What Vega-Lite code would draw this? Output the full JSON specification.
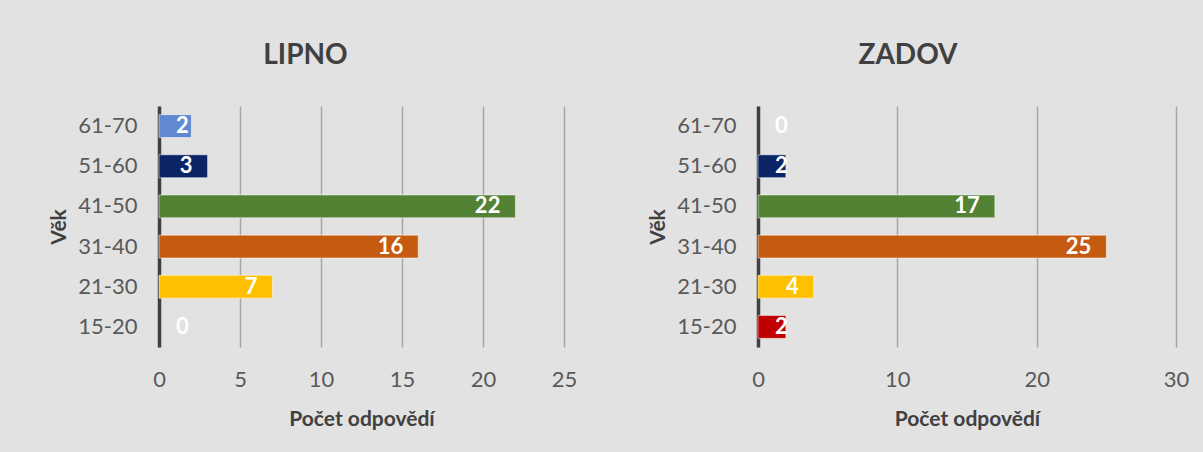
{
  "$schema": "https://vega.github.io/schema/vega-lite/v6.json",
  "background": "#e2e2e2",
  "padding": {"left": 48, "top": 42, "right": 15, "bottom": 23},
  "spacing": 70,
  "datasets": {
    "lipno": [
      {"vek": "15-20", "pocet": 0},
      {"vek": "21-30", "pocet": 7},
      {"vek": "31-40", "pocet": 16},
      {"vek": "41-50", "pocet": 22},
      {"vek": "51-60", "pocet": 3},
      {"vek": "61-70", "pocet": 2}
    ],
    "zadov": [
      {"vek": "15-20", "pocet": 2},
      {"vek": "21-30", "pocet": 4},
      {"vek": "31-40", "pocet": 25},
      {"vek": "41-50", "pocet": 17},
      {"vek": "51-60", "pocet": 2},
      {"vek": "61-70", "pocet": 0}
    ]
  },
  "config": {
    "font": "Lato",
    "view": {"stroke": null},
    "title": {"fontSize": 28, "fontWeight": "bold", "color": "#404040", "offset": 36, "anchor": "middle"},
    "axisY": {"labelFontSize": 22, "labelColor": "#595959", "labelPadding": 22, "ticks": false, "domain": true, "domainColor": "#404040", "domainWidth": 3.5, "titleFontSize": 21, "titleFontWeight": "bold", "titleColor": "#404040", "titlePadding": 8, "grid": false},
    "axisX": {"labelFontSize": 22, "labelColor": "#595959", "labelPadding": 22, "labelFlush": false, "ticks": false, "domain": false, "grid": true, "gridColor": "#a6a6a6", "gridWidth": 1.5, "titleFontSize": 21, "titleFontWeight": "bold", "titleColor": "#404040", "titlePadding": 18}
  },
  "hconcat": [
    {
      "title": {"text": "LIPNO", "dx": -56},
      "width": 405,
      "height": 241,
      "data": {"name": "lipno"},
      "encoding": {
        "y": {"field": "vek", "type": "nominal", "sort": ["61-70", "51-60", "41-50", "31-40", "21-30", "15-20"], "title": "Věk", "scale": {"paddingInner": 0.43, "paddingOuter": 0.215}}
      },
      "layer": [
        {
          "transform": [{"filter": "datum.pocet > 0"}],
          "mark": {"type": "bar", "stroke": "#ffffff", "strokeOpacity": 0.5, "strokeWidth": 1},
          "encoding": {
            "x": {"field": "pocet", "type": "quantitative", "scale": {"domain": [0, 25], "nice": false}, "axis": {"values": [0, 5, 10, 15, 20, 25], "title": "Počet odpovědí"}},
            "color": {"field": "vek", "type": "nominal", "scale": {"domain": ["15-20", "21-30", "31-40", "41-50", "51-60", "61-70"], "range": ["#C00000", "#FFC000", "#C55A11", "#548235", "#0A2466", "#6189D2"]}, "legend": null}
          }
        },
        {
          "transform": [{"filter": "datum.pocet > 2"}],
          "mark": {"type": "text", "align": "right", "dx": -15, "color": "#ffffff", "fontWeight": "bold", "fontSize": 22},
          "encoding": {"x": {"field": "pocet", "type": "quantitative"}, "text": {"field": "pocet", "type": "quantitative"}}
        },
        {
          "transform": [{"filter": "datum.pocet <= 2"}],
          "mark": {"type": "text", "align": "left", "dx": 17, "color": "#ffffff", "fontWeight": "bold", "fontSize": 22},
          "encoding": {"x": {"datum": 0, "type": "quantitative"}, "text": {"field": "pocet", "type": "quantitative"}}
        }
      ]
    },
    {
      "title": {"text": "ZADOV", "dx": -59},
      "width": 418,
      "height": 241,
      "data": {"name": "zadov"},
      "encoding": {
        "y": {"field": "vek", "type": "nominal", "sort": ["61-70", "51-60", "41-50", "31-40", "21-30", "15-20"], "title": "Věk", "scale": {"paddingInner": 0.43, "paddingOuter": 0.215}}
      },
      "layer": [
        {
          "transform": [{"filter": "datum.pocet > 0"}],
          "mark": {"type": "bar", "stroke": "#ffffff", "strokeOpacity": 0.5, "strokeWidth": 1},
          "encoding": {
            "x": {"field": "pocet", "type": "quantitative", "scale": {"domain": [0, 30], "nice": false}, "axis": {"values": [0, 10, 20, 30], "title": "Počet odpovědí"}},
            "color": {"field": "vek", "type": "nominal", "scale": {"domain": ["15-20", "21-30", "31-40", "41-50", "51-60", "61-70"], "range": ["#C00000", "#FFC000", "#C55A11", "#548235", "#0A2466", "#6189D2"]}, "legend": null}
          }
        },
        {
          "transform": [{"filter": "datum.pocet > 2"}],
          "mark": {"type": "text", "align": "right", "dx": -15, "color": "#ffffff", "fontWeight": "bold", "fontSize": 22},
          "encoding": {"x": {"field": "pocet", "type": "quantitative"}, "text": {"field": "pocet", "type": "quantitative"}}
        },
        {
          "transform": [{"filter": "datum.pocet <= 2"}],
          "mark": {"type": "text", "align": "left", "dx": 17, "color": "#ffffff", "fontWeight": "bold", "fontSize": 22},
          "encoding": {"x": {"datum": 0, "type": "quantitative"}, "text": {"field": "pocet", "type": "quantitative"}}
        }
      ]
    }
  ]
}
